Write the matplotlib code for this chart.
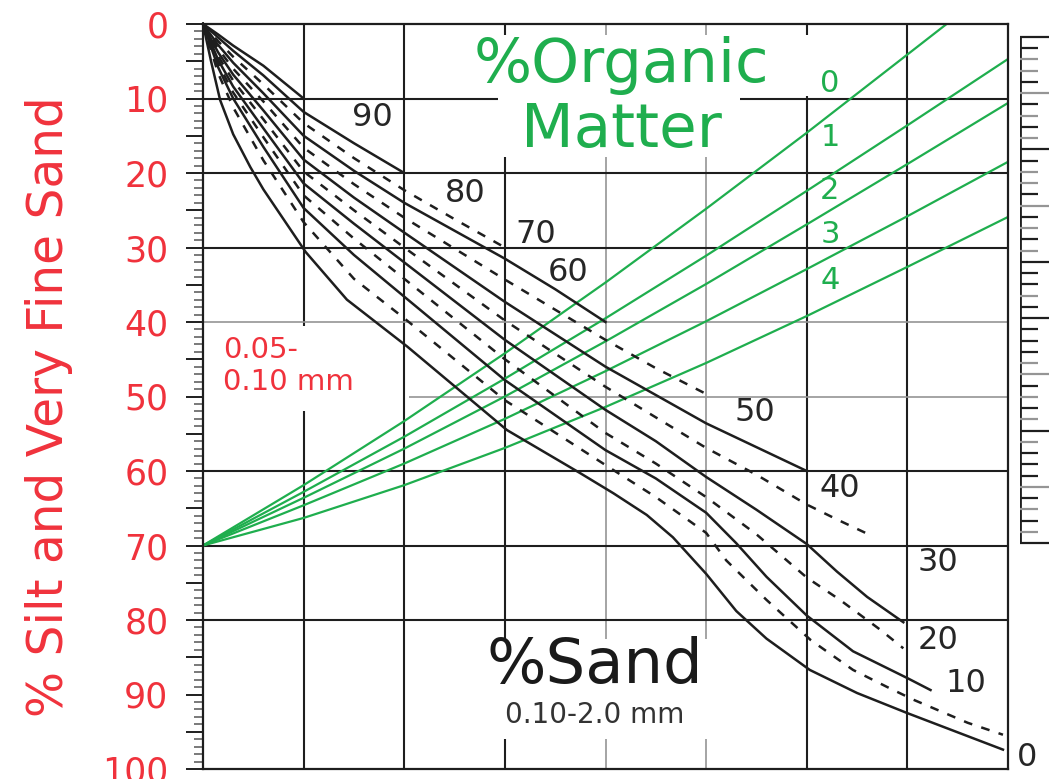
import numpy as np
import matplotlib.pyplot as plt
from matplotlib.ticker import FixedLocator, MultipleLocator

plt.rcParams['font.family'] = ['DejaVu Sans']

RED = '#f0323c'
GREEN = '#1fae4e'
DARK = '#1e1e1e'
GREY = '#959595'

# ---------------------------------------------------------------------------
# % sand curves (x = nomograph column, y = % silt + very fine sand)
# ---------------------------------------------------------------------------
sand90_x = [0, 0.15, 0.3, 0.6, 1.0]
sand90_y = [0, 1.4, 2.9, 5.6, 10.0]

sand80_x = [0, 0.15, 0.3, 0.6, 1.0, 1.5, 2.0]
sand80_y = [0, 1.8, 3.6, 6.9, 11.8, 16.0, 20.0]

sand70_x = [0, 0.15, 0.3, 0.6, 1.0, 1.5, 2.0, 2.5, 3.0]
sand70_y = [0, 2.3, 4.4, 8.1, 13.3, 18.0, 22.3, 26.2, 30.0]

sand60_x = [0, 0.15, 0.3, 0.6, 1.0, 1.5, 2.0, 3.0, 3.5, 4.0]
sand60_y = [0, 2.8, 5.2, 9.3, 15.0, 19.7, 24.0, 31.5, 35.6, 40.0]

sand50_x = [0, 0.15, 0.3, 0.6, 1.0, 1.5, 2.0, 3.0, 4.0, 4.5, 5.05]
sand50_y = [0, 3.3, 6.0, 10.4, 16.6, 21.5, 26.0, 34.3, 42.4, 46.2, 50.0]

sand40_x = [0, 0.15, 0.3, 0.6, 1.0, 1.5, 2.0, 3.0, 4.0, 4.5, 5.0, 5.5, 6.0]
sand40_y = [0, 3.8, 6.8, 11.6, 18.2, 23.3, 28.0, 37.3, 46.0, 49.8, 53.6, 56.8, 60.0]

sand30_x = [0, 0.15, 0.3, 0.6, 1.0, 1.5, 2.0, 3.0, 4.0, 4.5, 5.0, 5.5, 6.0, 6.3, 6.63]
sand30_y = [0, 4.3, 7.6, 12.8, 19.8, 25.0, 30.0, 39.8, 48.7, 52.8, 56.9, 60.5, 64.5, 66.5, 68.6]

sand20_x = [0, 0.15, 0.3, 0.6, 1.0, 1.5, 2.0, 3.0, 4.0, 4.5, 5.0, 5.5, 6.0, 6.3, 6.6, 6.96]
sand20_y = [0, 4.8, 8.4, 14.0, 21.4, 26.8, 32.0, 42.4, 51.8, 56.0, 60.8, 65.2, 69.8, 73.5, 76.9, 80.3]

sand15_x = [0, 0.15, 0.3, 0.6, 1.0, 1.5, 2.0, 3.0, 4.0, 4.5, 5.0, 5.5, 6.0, 6.33, 6.73, 6.96]
sand15_y = [0, 5.3, 9.2, 15.2, 23.0, 28.8, 34.2, 45.0, 54.9, 59.0, 63.5, 68.5, 74.3, 77.3, 81.3, 83.8]

sand10_x = [0, 0.15, 0.3, 0.6, 1.0, 1.5, 2.0, 3.0, 4.0, 4.5, 5.0, 5.3, 5.6, 6.0, 6.46, 7.0, 7.23]
sand10_y = [0, 5.8, 10.0, 16.5, 24.7, 31.0, 36.6, 47.8, 57.2, 61.0, 65.6, 69.7, 74.2, 79.4, 84.2, 87.8, 89.4]

sand5_x = [0, 0.15, 0.3, 0.6, 1.0, 1.5, 2.0, 3.0, 4.0, 4.5, 5.0, 5.2, 5.6, 6.04, 6.46, 6.8, 7.06, 7.6, 7.95]
sand5_y = [0, 6.6, 11.2, 18.3, 26.6, 34.2, 39.5, 50.5, 59.2, 63.5, 68.3, 72.0, 77.3, 82.7, 86.7, 89.0, 90.7, 93.8, 95.4]

sand0_x = [0, 0.08, 0.17, 0.3, 0.47, 0.6, 1.02, 1.43, 2.03, 3.02, 3.75, 4.08, 4.41, 4.67,
           5.0, 5.3, 5.6, 6.03, 6.5, 7.0, 7.95]
sand0_y = [0, 5.0, 10.2, 14.8, 19.2, 22.2, 30.6, 37.0, 43.3, 54.5, 60.3, 63.0, 65.9, 68.9,
           73.8, 78.8, 82.5, 86.7, 89.8, 92.5, 97.4]

sand_labels = ['90', '80', '70', '60', '50', '40', '30', '20', '10', '0']
sand_label_x = [1.68, 2.61, 3.31, 3.63, 5.48, 6.33, 7.30, 7.30, 7.58, 8.19]
sand_label_y = [12.5, 22.7, 28.3, 33.4, 52.1, 62.3, 72.3, 82.7, 88.5, 98.4]

# ---------------------------------------------------------------------------
# % organic matter lines
# ---------------------------------------------------------------------------
om_x = [0, 1, 2, 3, 4, 5, 6, 7, 8]
om0_x = [0, 1, 2, 3, 4, 5, 6, 7, 7.39]
om0_y = [70, 61.9, 53.3, 44.2, 34.7, 24.8, 14.6, 4.1, 0]
om1_y = [70, 62.8, 55.4, 47.6, 39.5, 31.1, 22.4, 13.6, 4.7]
om2_y = [70, 63.6, 57.0, 50.0, 42.6, 34.9, 26.9, 18.8, 10.6]
om3_y = [70, 64.6, 59.0, 53.0, 46.6, 39.9, 32.9, 25.8, 18.5]
om4_y = [70, 66.3, 61.9, 56.9, 51.4, 45.5, 39.2, 32.6, 25.9]

om_labels = ['0', '1', '2', '3', '4']
om_label_x = [6.23, 6.23, 6.23, 6.23, 6.23]
om_label_y = [8.0, 15.3, 22.4, 28.2, 34.4]

y_ticks = np.arange(0, 101, 5)
k_scale = np.arange(0, 46)
k_grey = [2, 3, 5, 7, 9, 12, 13, 15, 17, 19, 23, 29, 30, 32, 34, 36, 40, 42, 44]

# ---------------------------------------------------------------------------
fig = plt.figure(figsize=(10.63, 7.79), dpi=100)
ax = fig.add_axes([203 / 1063, 10 / 779, 805 / 1063, 745 / 779])
ax.set_xlim(0, 8)
ax.set_ylim(100, 0)

# grid, drawn by hand because several lines are broken around the texts
vgrid = [
    (1, DARK, [(0, 40.5), (52, 100)]),
    (2, DARK, [(0, 100)]),
    (3, DARK, [(0, 1.5), (17.8, 82.5), (96, 100)]),
    (4, GREY, [(0, 1.5), (17.8, 82.5), (96, 100)]),
    (5, GREY, [(0, 1.5), (17.8, 82.5), (96, 100)]),
    (6, DARK, [(0, 1.5), (9.6, 100)]),
    (7, DARK, [(0, 100)]),
]
hgrid = [
    (10, DARK, [(0, 2.93), (5.34, 8)]),
    (20, DARK, [(0, 8)]),
    (30, DARK, [(0, 8)]),
    (40, GREY, [(0, 8)]),
    (50, GREY, [(2.05, 8)]),
    (60, DARK, [(0, 8)]),
    (70, DARK, [(0, 8)]),
    (80, DARK, [(0, 8)]),
]
for x, c, segs in vgrid:
    for y0, y1 in segs:
        ax.vlines(x, y0, y1, color=c, lw=1.5 if c == DARK else 1.2, zorder=1)
for y, c, segs in hgrid:
    for x0, x1 in segs:
        ax.hlines(y, x0, x1, color=c, lw=1.5 if c == DARK else 1.2, zorder=1)

# organic matter
for xs, ys in [(om0_x, om0_y), (om_x, om1_y), (om_x, om2_y), (om_x, om3_y), (om_x, om4_y)]:
    ax.plot(xs, ys, color=GREEN, lw=1.6, zorder=2, solid_capstyle='round')

# sand curves
solid = dict(color=DARK, lw=1.8, zorder=3, solid_joinstyle='round')
dashed = dict(color=DARK, lw=1.8, zorder=3, linestyle=(0, (3.5, 3.8)))
curves = [
    (sand90_x, sand90_y, solid), (sand80_x, sand80_y, solid),
    (sand70_x, sand70_y, dashed), (sand60_x, sand60_y, solid),
    (sand50_x, sand50_y, dashed), (sand40_x, sand40_y, solid),
    (sand30_x, sand30_y, dashed), (sand20_x, sand20_y, solid),
    (sand15_x, sand15_y, dashed), (sand10_x, sand10_y, solid),
    (sand5_x, sand5_y, dashed), (sand0_x, sand0_y, solid),
]
for xs, ys, st in curves:
    ax.plot(xs, ys, clip_on=False, **st)

for lab, x, y in zip(sand_labels, sand_label_x, sand_label_y):
    ax.text(x, y, lab, fontsize=23, color='#262626', ha='center', va='center', zorder=4)
for lab, x, y in zip(om_labels, om_label_x, om_label_y):
    ax.text(x, y, lab, fontsize=22, color=GREEN, ha='center', va='center', zorder=4)

ax.text(4.155, 7.8, '%Organic', fontsize=44, color=GREEN, ha='center', va='baseline')
ax.text(4.155, 16.5, 'Matter', fontsize=44, color=GREEN, ha='center', va='baseline')
ax.text(3.89, 88.4, '%Sand', fontsize=45, color='#1a1a1a', ha='center', va='baseline')
ax.text(3.89, 93.8, '0.10-2.0 mm', fontsize=20, color='#333333', ha='center', va='baseline')
ax.text(0.2, 44.8, '0.05-', fontsize=21, color=RED, ha='left', va='baseline')
ax.text(0.2, 49.1, '0.10 mm', fontsize=21, color=RED, ha='left', va='baseline')

# left axis
ax.yaxis.set_major_locator(FixedLocator(y_ticks))
ax.set_yticklabels([str(v) if v % 10 == 0 else '' for v in y_ticks])
ax.yaxis.set_minor_locator(MultipleLocator(1))
ax.tick_params(axis='y', which='major', direction='out', length=12, width=1.4,
               color=DARK, labelsize=25, labelcolor=RED, pad=13)
ax.tick_params(axis='y', which='minor', direction='out', length=6.5, width=1.1, color='#555555')
ax.set_xticks([])
for s in ax.spines.values():
    s.set_linewidth(1.6)
    s.set_color(DARK)

fig.text(49 / 1063, 1 - 407 / 779, '% Silt and Very Fine Sand', rotation=90,
         fontsize=35, color=RED, ha='center', va='center')

# right-hand K scale
axk = fig.add_axes([1020 / 1063, 1 - 543 / 779, 32 / 1063, 506 / 779])
axk.set_ylim(45, 0)
axk.set_xlim(0, 1)
axk.axis('off')
axk.vlines(0, 0, 45, color=DARK, lw=2)
k_len = [0.9 if k % 5 == 0 else 0.56 for k in k_scale]
k_col = [GREY if k in k_grey else DARK for k in k_scale]
axk.hlines(k_scale, 0, k_len, colors=k_col, lw=1.6, clip_on=False)

fig.savefig('out.png', dpi=100)
